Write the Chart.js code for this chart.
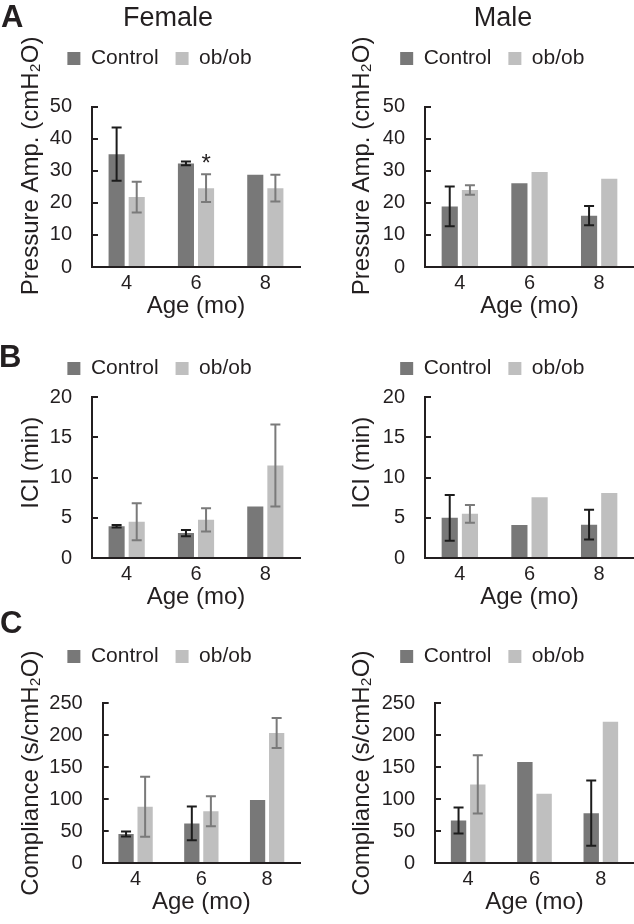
<!DOCTYPE html>
<html>
<head>
<meta charset="utf-8">
<script src="https://cdn.jsdelivr.net/npm/chart.js@4.4.1/dist/chart.umd.min.js"></script>
<style>
  body { margin: 0; background: #fff; }
  #page { position: relative; width: 634px; height: 924px; overflow: hidden;
          font-family: 'Liberation Sans', Arial, sans-serif; color: #231f20; }
  canvas { position: absolute; }
  .letter { position: absolute; font-weight: bold; font-size: 31px; line-height: 31px; }
  .sex { position: absolute; width: 200px; text-align: center; font-size: 27px; line-height: 27px; }
</style>
</head>
<body>
<div id="page">
  <canvas id="pressureFemale" width="317" height="290" style="left:0;top:31px"></canvas>
  <canvas id="pressureMale" width="317" height="290" style="left:317px;top:31px"></canvas>
  <canvas id="iciFemale" width="317" height="271" style="left:0;top:341px"></canvas>
  <canvas id="iciMale" width="317" height="271" style="left:317px;top:341px"></canvas>
  <canvas id="compFemale" width="317" height="288" style="left:0;top:629px"></canvas>
  <canvas id="compMale" width="317" height="288" style="left:317px;top:629px"></canvas>

  <div class="letter" style="left:1px;top:1px">A</div>
  <div class="letter" style="left:-1px;top:341px">B</div>
  <div class="letter" style="left:0;top:607px">C</div>
  <div class="sex" style="left:68px;top:3.8px">Female</div>
  <div class="sex" style="left:403px;top:3.8px">Male</div>
</div>

<script>
// categories and series
const ages = ['4', '6', '8'];
const seriesNames = ['Control', 'ob/ob'];

// Pressure amplitude (cmH2O), mean and error
const pressureTicks = [0, 10, 20, 30, 40, 50];
const pressureFemaleControl = [35.2, 32.3, 28.8];
const pressureFemaleControlErr = [8.3, 0.6, 0];
const pressureFemaleOb = [21.8, 24.6, 24.6];
const pressureFemaleObErr = [4.8, 4.3, 4.2];
const pressureFemaleMarks = ['', '*', ''];
const pressureMaleControl = [18.9, 26.1, 16.0];
const pressureMaleControlErr = [6.2, 0, 3.0];
const pressureMaleOb = [24.0, 29.6, 27.5];
const pressureMaleObErr = [1.5, 0, 0];

// ICI (min)
const iciTicks = [0, 5, 10, 15, 20];
const iciFemaleControl = [3.95, 3.1, 6.4];
const iciFemaleControlErr = [0.15, 0.4, 0];
const iciFemaleOb = [4.5, 4.75, 11.5];
const iciFemaleObErr = [2.3, 1.45, 5.1];
const iciMaleControl = [5.0, 4.1, 4.15];
const iciMaleControlErr = [2.85, 0, 1.85];
const iciMaleOb = [5.5, 7.55, 8.1];
const iciMaleObErr = [1.1, 0, 0];

// Compliance (s/cmH2O)
const compTicks = [0, 50, 100, 150, 200, 250];
const compFemaleControl = [45.5, 62, 98.5];
const compFemaleControlErr = [4, 26.5, 0];
const compFemaleOb = [88, 81, 203.5];
const compFemaleObErr = [47, 23.3, 23.3];
const compMaleControl = [66.5, 158, 78];
const compMaleControlErr = [20.2, 0, 51];
const compMaleOb = [123, 108.5, 221];
const compMaleObErr = [45.6, 0, 0];

const axisColor = '#231f20';
Chart.defaults.font.family = "'Liberation Sans', Arial, sans-serif";
Chart.defaults.color = axisColor;

// extra space under the legend
const legendGap = {
    id: 'legendGap',
    beforeInit(chart, args, opts) {
        const fit = chart.legend.fit;
        chart.legend.fit = function () {
            fit.call(this);
            this.height += opts.gap || 0;
        };
    }
};

// the y titles sit a bit above the middle of the axis in the original
const yTitleShift = {
    id: 'yTitleShift',
    afterLayout(chart, args, opts) {
        const s = chart.scales.y;
        if (s._shifted) return;
        const draw = s.drawTitle;
        s.drawTitle = function () {
            this.ctx.save();
            this.ctx.translate(0, -(opts.shift || 0));
            draw.call(this);
            this.ctx.restore();
        };
        s._shifted = true;
    }
};

// error bars (and the significance star) drawn on top of the bars
const errorBars = {
    id: 'errorBars',
    afterDatasetsDraw(chart) {
        const ctx = chart.ctx;
        const y = chart.scales.y;
        chart.data.datasets.forEach((ds, i) => {
            chart.getDatasetMeta(i).data.forEach((bar, j) => {
                const v = ds.data[j];
                const err = ds.errors[j];
                ctx.save();
                if (err) {
                    const top = y.getPixelForValue(v + err);
                    const bot = y.getPixelForValue(v - err);
                    ctx.strokeStyle = ds.errorColor;
                    ctx.lineWidth = 2;
                    ctx.beginPath();
                    ctx.moveTo(bar.x, top); ctx.lineTo(bar.x, bot);
                    ctx.moveTo(bar.x - 5, top); ctx.lineTo(bar.x + 5, top);
                    ctx.moveTo(bar.x - 5, bot); ctx.lineTo(bar.x + 5, bot);
                    ctx.stroke();
                }
                const mark = ds.marks && ds.marks[j];
                if (mark) {
                    ctx.fillStyle = axisColor;
                    ctx.font = "24px 'Liberation Sans', Arial, sans-serif";
                    ctx.textAlign = 'center';
                    ctx.textBaseline = 'alphabetic';
                    ctx.fillText(mark, bar.x, y.getPixelForValue(v + (err || 0)) - 3);
                }
                ctx.restore();
            });
        });
    }
};

function barPanel(id, p) {
    return new Chart(document.getElementById(id), {
        type: 'bar',
        data: {
            labels: ages,
            datasets: [
                { label: seriesNames[0], data: p.control, errors: p.controlErr,
                  errorColor: '#1c1c1c', backgroundColor: '#787878' },
                { label: seriesNames[1], data: p.ob, errors: p.obErr, marks: p.marks,
                  errorColor: '#7a7a7a', backgroundColor: '#bfbfbf' }
            ]
        },
        options: {
            responsive: false,
            animation: false,
            layout: { padding: { left: p.padLeft, right: p.padRight, top: 0, bottom: 0 } },
            datasets: { bar: { categoryPercentage: 0.58, barPercentage: 0.8 } },
            plugins: {
                legend: {
                    labels: { boxWidth: 13, boxHeight: 13, padding: 17, font: { size: 21 } }
                },
                tooltip: { enabled: false },
                legendGap: { gap: p.gap },
                yTitleShift: { shift: p.titleShift }
            },
            scales: {
                x: {
                    grid: { display: false, drawTicks: false },
                    border: { color: axisColor, width: 2 },
                    ticks: { padding: 4, font: { size: 20 } },
                    title: { display: true, text: 'Age (mo)', font: { size: 24 }, padding: 0 },
                    afterFit: s => { s.height = 54; }
                },
                y: {
                    min: p.ticks[0],
                    max: p.ticks[p.ticks.length - 1],
                    ticks: { stepSize: p.ticks[1] - p.ticks[0], padding: 26, font: { size: 20 } },
                    grid: { drawOnChartArea: false, tickLength: -6, lineWidth: 2, color: axisColor },
                    border: { color: axisColor, width: 2 },
                    title: { display: true, text: p.yTitle, font: { size: 24, lineHeight: 1 }, padding: 0 },
                    afterFit: s => { s.width = p.yWidth; }
                }
            }
        },
        plugins: [legendGap, yTitleShift, errorBars]
    });
}

const female = { padLeft: 19, padRight: 17 };
const male = { padLeft: 33.6, padRight: 0 };

barPanel('pressureFemale', Object.assign({}, female, {
    control: pressureFemaleControl, controlErr: pressureFemaleControlErr,
    ob: pressureFemaleOb, obErr: pressureFemaleObErr, marks: pressureFemaleMarks,
    ticks: pressureTicks, yTitle: 'Pressure Amp. (cmH\u2082O)', yWidth: 73, gap: 27.7, titleShift: 21
}));
barPanel('pressureMale', Object.assign({}, male, {
    control: pressureMaleControl, controlErr: pressureMaleControlErr,
    ob: pressureMaleOb, obErr: pressureMaleObErr,
    ticks: pressureTicks, yTitle: 'Pressure Amp. (cmH\u2082O)', yWidth: 74.4, gap: 27.7, titleShift: 21
}));
barPanel('iciFemale', Object.assign({}, female, {
    control: iciFemaleControl, controlErr: iciFemaleControlErr,
    ob: iciFemaleOb, obErr: iciFemaleObErr,
    ticks: iciTicks, yTitle: 'ICI (min)', yWidth: 73, gap: 8.3, titleShift: 15
}));
barPanel('iciMale', Object.assign({}, male, {
    control: iciMaleControl, controlErr: iciMaleControlErr,
    ob: iciMaleOb, obErr: iciMaleObErr,
    ticks: iciTicks, yTitle: 'ICI (min)', yWidth: 74.4, gap: 8.3, titleShift: 15
}));
barPanel('compFemale', Object.assign({}, female, {
    control: compFemaleControl, controlErr: compFemaleControlErr,
    ob: compFemaleOb, obErr: compFemaleObErr,
    ticks: compTicks, yTitle: 'Compliance (s/cmH\u2082O)', yWidth: 83.7, gap: 26.3, titleShift: 10
}));
barPanel('compMale', Object.assign({}, male, {
    control: compMaleControl, controlErr: compMaleControlErr,
    ob: compMaleOb, obErr: compMaleObErr,
    ticks: compTicks, yTitle: 'Compliance (s/cmH\u2082O)', yWidth: 84.4, gap: 26.3, titleShift: 10
}));
</script>
</body>
</html>
